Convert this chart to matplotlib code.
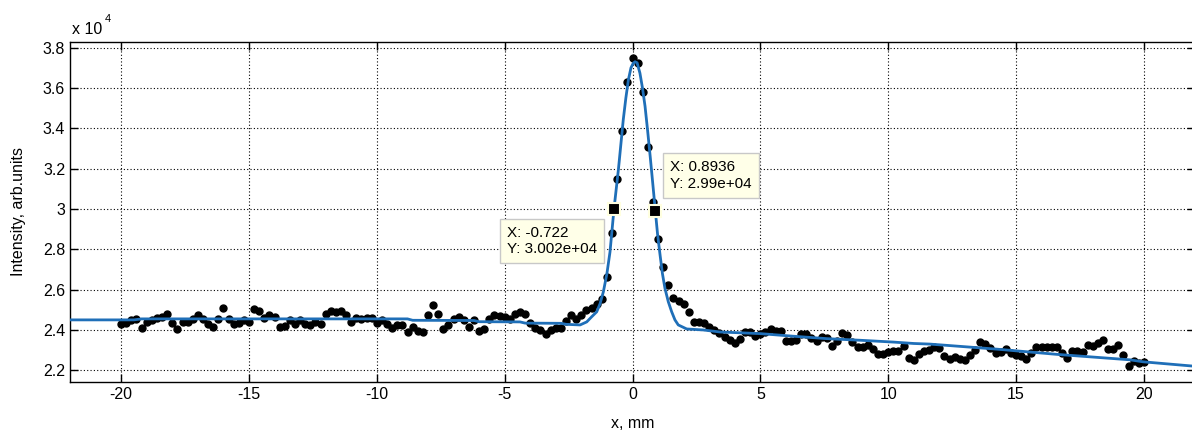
import numpy as np
import matplotlib.pyplot as plt

plt.rcParams['font.family'] = ['Liberation Sans', 'DejaVu Sans']
plt.rcParams['axes.unicode_minus'] = False

# measured profile, one point every 0.2 mm from -20 to 20 mm
pos_mm = np.linspace(-20, 20, 201)
intensity = [
    24300, 24360, 24470, 24560, 24100, 24390, 24470, 24610, 24640, 24810,
    24340, 24030, 24390, 24390, 24560, 24730, 24560, 24300, 24140, 24560,
    25100, 24560, 24300, 24360, 24470, 24390, 25030, 24930, 24610, 24730,
    24640, 24140, 24220, 24470, 24300, 24470, 24300, 24250, 24380, 24300,
    24810, 24930, 24900, 24930, 24730, 24390, 24590, 24560, 24610, 24590,
    24360, 24470, 24300, 24080, 24250, 24250, 23920, 24140, 23970, 23880,
    24760, 25240, 24810, 24050, 24250, 24560, 24640, 24470, 24140, 24470,
    23970, 24050, 24560, 24760, 24690, 24640, 24560, 24810, 24900, 24800,
    24330, 24090, 23980, 23810, 23980, 24090, 24100, 24430, 24720, 24550,
    24720, 25000, 25100, 25270, 25520, 26630, 28800, 31510, 33860, 36280,
    37500, 37250, 35790, 33090, 30330, 28490, 27130, 26250, 25600, 25450,
    25310, 24910, 24420, 24390, 24340, 24130, 24020, 23860, 23650, 23520,
    23360, 23550, 23920, 23910, 23700, 23780, 23920, 24050, 23970, 23930,
    23460, 23430, 23510, 23800, 23800, 23580, 23470, 23640, 23600, 23200,
    23450, 23860, 23750, 23410, 23170, 23180, 23240, 23070, 22800, 22820,
    22930, 22950, 22950, 23200, 22600, 22500, 22810, 22950, 23020, 23170,
    23100, 22720, 22560, 22660, 22560, 22520, 22770, 23020, 23380, 23310,
    23100, 22850, 22930, 23050, 22850, 22770, 22690, 22560, 22850, 23150,
    23150, 23150, 23150, 23150, 22850, 22610, 22980, 22980, 22890, 23260,
    23210, 23340, 23480, 23050, 23050, 23260, 22770, 22200, 22440, 22360,
    22390,
]

# fitted curve
fit_x = [-22.0, -19.5, -19.2, -8.8, -8.6, -6.2, -6.0, -4.4, -4.2, -2.8, -2.6,
         -2.05, -1.79, -1.6, -1.4, -1.27, -1.14, -1.0, -0.88, -0.722, -0.55,
         -0.36, -0.26, -0.16, -0.06, 0.03, 0.1, 0.18, 0.29, 0.39, 0.49, 0.59,
         0.69, 0.79, 0.8936, 0.98, 1.08, 1.17, 1.27, 1.4, 1.53, 1.66, 1.79,
         2.12, 2.77, 3.42, 4.99, 6.29, 7.6, 8.9, 10.2, 11.0, 11.63, 14.24,
         16.6, 19.46, 19.98, 22.0]
fit_y = [24500, 24500, 24550, 24550, 24480, 24470, 24410, 24400, 24340, 24330,
         24280, 24250, 24400, 24650, 24900, 25300, 25890, 26800, 27870, 30020,
         31970, 34440, 35500, 36410, 37000, 37230, 37300, 37250, 36740, 36000,
         35100, 33900, 32630, 31300, 29900, 28750, 27700, 26800, 26060, 25400,
         24910, 24500, 24250, 24050, 24000, 23900, 23820, 23690, 23570, 23490,
         23400, 23330, 23300, 23050, 22790, 22520, 22420, 22200]

# data tips
tip_x = [-0.722, 0.8936]
tip_y = [30020, 29900]
tip_text = ['X: -0.722\nY: 3.002e+04', 'X: 0.8936\nY: 2.99e+04']
tip_offset = [(-107, -17), (15, 51)]

xticks = [-20, -15, -10, -5, 0, 5, 10, 15, 20]
yticks = [22000, 24000, 26000, 28000, 30000, 32000, 34000, 36000, 38000]
ytick_labels = ['2.2', '2.4', '2.6', '2.8', '3', '3.2', '3.4', '3.6', '3.8']

fig = plt.figure(figsize=(11.92, 4.3), dpi=100)
ax = fig.add_axes([70 / 1192, 1 - 382 / 430, 1125 / 1192, 340 / 430])

ax.plot(pos_mm, intensity, 'o', color='k', ms=5, zorder=3)
ax.plot(fit_x, fit_y, color='#1f6fb8', lw=2, zorder=4)
ax.plot(tip_x, tip_y, 's', mfc='k', mec='#ffffe0', ms=9, mew=1.5, zorder=6)

for tx, ty, txt, off in zip(tip_x, tip_y, tip_text, tip_offset):
    ax.annotate(txt, xy=(tx, ty), xytext=off, textcoords='offset pixels',
                ha='left', va='top', fontsize=11, linespacing=1.25, zorder=7,
                bbox=dict(boxstyle='square,pad=0.45', fc='#ffffe8', ec='#c8c8c8', lw=1))

ax.set_xlim(-22, 22)
ax.set_ylim(21420, 38280)
ax.set_xticks(xticks)
ax.set_yticks(yticks)
ax.set_yticklabels(ytick_labels)
ax.tick_params(direction='in', length=6, width=1, top=True, right=True, labelsize=11.5)
ax.grid(True, color='k', linestyle=(0, (1, 2)), linewidth=0.8)
for s in ax.spines.values():
    s.set_linewidth(1)

ax.set_xlabel('x, mm', fontsize=11.5, labelpad=10)
ax.set_ylabel('Intensity, arb.units', fontsize=11.5, labelpad=12)

fig.text(72 / 1192, 1 - 34 / 430, 'x 10', fontsize=11.5, va='baseline')
fig.text(105 / 1192, 1 - 22 / 430, '4', fontsize=8, va='baseline')

fig.savefig('out.png', dpi=100)
